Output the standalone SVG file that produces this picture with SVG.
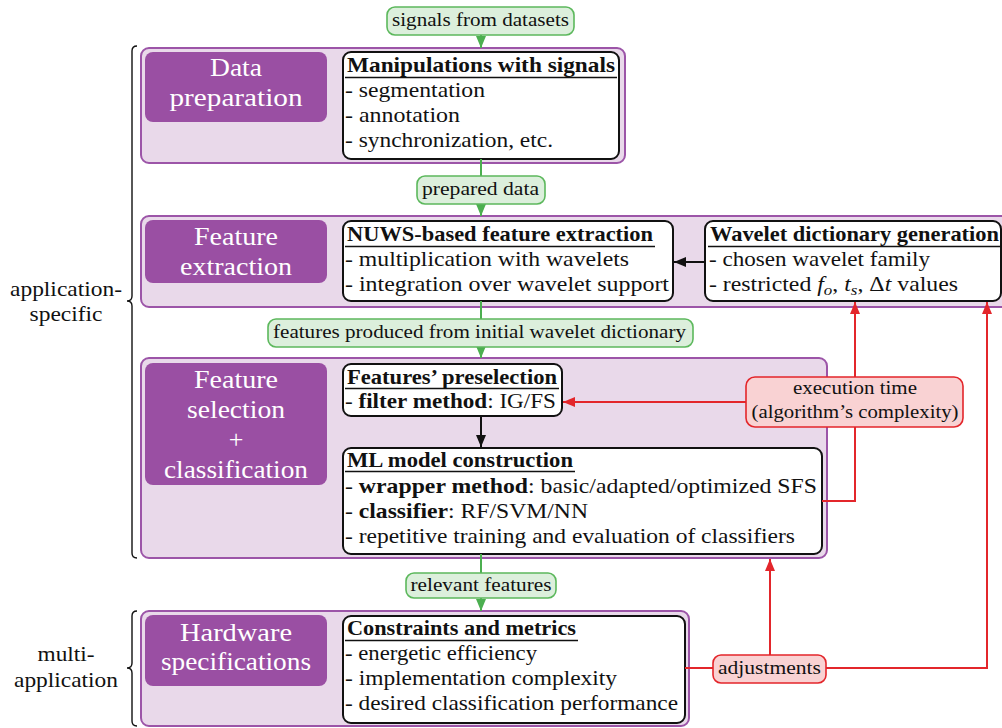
<svg xmlns="http://www.w3.org/2000/svg" width="1002" height="728" viewBox="0 0 1002 728">
  <style>
    text { font-family: "Liberation Serif", "Times New Roman", serif; font-size: 21px; fill: #111; }
    .b { font-weight: bold; }
    .it { font-style: italic; }
    .dk { fill: #ffffff; font-size: 26px; text-anchor: middle; }
    .lb { font-size: 19px; text-anchor: middle; }
    .mid { text-anchor: middle; }
    .frame { fill: #e9d9ea; stroke: #9c55a8; stroke-width: 2; }
    .stage { fill: #9a4fa3; }
    .card { fill: #ffffff; stroke: #111; stroke-width: 2; }
    .ul { stroke: #111; stroke-width: 1.5; }
    .gl { fill: #dcefdc; stroke: #5cb85c; stroke-width: 1.6; }
    .rl { fill: #f9d2d3; stroke: #e3262b; stroke-width: 1.6; }
    .cg { fill: none; stroke: #4caf50; stroke-width: 2; }
    .cr { fill: none; stroke: #e3262b; stroke-width: 2; }
    .ck { fill: none; stroke: #111; stroke-width: 2; }
    .brace { fill: none; stroke: #111; stroke-width: 1.4; }
  </style>
  <defs>
    <marker id="ahG" viewBox="0 0 12 10" refX="12" refY="5" markerWidth="12" markerHeight="10" orient="auto" markerUnits="userSpaceOnUse">
      <path d="M0,0 L12,5 L0,10 z" fill="#4caf50"/>
    </marker>
    <marker id="ahR" viewBox="0 0 12 10" refX="12" refY="5" markerWidth="12" markerHeight="10" orient="auto" markerUnits="userSpaceOnUse">
      <path d="M0,0 L12,5 L0,10 z" fill="#e3262b"/>
    </marker>
    <marker id="ahK" viewBox="0 0 12 10" refX="12" refY="5" markerWidth="12" markerHeight="10" orient="auto" markerUnits="userSpaceOnUse">
      <path d="M0,0 L12,5 L0,10 z" fill="#111"/>
    </marker>
  </defs>

  <rect width="1002" height="728" fill="#ffffff"/>

  <!-- scope braces -->
  <g id="scope-app">
    <path class="brace" d="M137,46 Q132,46 132,51 L132,296 Q132,301 127,301 Q132,301 132,306 L132,553 Q132,558 137,558"/>
    <text class="mid" x="66" y="296" textLength="112" lengthAdjust="spacingAndGlyphs">application-</text>
    <text class="mid" x="66" y="321" textLength="73" lengthAdjust="spacingAndGlyphs">specific</text>
  </g>
  <g id="scope-multi">
    <path class="brace" d="M137,611 Q132,611 132,616 L132,663 Q132,668 127,668 Q132,668 132,673 L132,721 Q132,726 137,726"/>
    <text class="mid" x="66" y="661" textLength="57" lengthAdjust="spacingAndGlyphs">multi-</text>
    <text class="mid" x="66" y="687" textLength="104" lengthAdjust="spacingAndGlyphs">application</text>
  </g>

  <!-- stage 1 -->
  <g id="data-preparation">
    <rect class="frame" x="141" y="48" width="484" height="115" rx="8"/>
    <rect class="stage" x="145" y="52" width="182" height="70" rx="8"/>
    <text class="dk" x="236" y="76" textLength="52" lengthAdjust="spacingAndGlyphs">Data</text>
    <text class="dk" x="236" y="106" textLength="133" lengthAdjust="spacingAndGlyphs">preparation</text>
  </g>
  <g id="manipulations">
    <rect class="card" x="343" y="52" width="276" height="107" rx="8"/>
    <text class="b" x="347" y="72" textLength="268" lengthAdjust="spacingAndGlyphs">Manipulations with signals</text>
    <line class="ul" x1="345" y1="77.5" x2="617" y2="77.5"/>
    <text x="345" y="97" textLength="140" lengthAdjust="spacingAndGlyphs">- segmentation</text>
    <text x="345" y="122" textLength="115" lengthAdjust="spacingAndGlyphs">- annotation</text>
    <text x="345" y="147" textLength="208" lengthAdjust="spacingAndGlyphs">- synchronization, etc.</text>
  </g>

  <!-- stage 2 -->
  <g id="feature-extraction">
    <rect class="frame" x="141" y="216" width="875" height="91" rx="8"/>
    <rect class="stage" x="145" y="220" width="182" height="63" rx="8"/>
    <text class="dk" x="236" y="245" textLength="84" lengthAdjust="spacingAndGlyphs">Feature</text>
    <text class="dk" x="236" y="275" textLength="112" lengthAdjust="spacingAndGlyphs">extraction</text>
  </g>
  <g id="nuws">
    <rect class="card" x="343" y="221" width="330" height="80" rx="8"/>
    <text class="b" x="347" y="241" textLength="306" lengthAdjust="spacingAndGlyphs">NUWS-based feature extraction</text>
    <line class="ul" x1="345" y1="246.5" x2="655" y2="246.5"/>
    <text x="345" y="266" textLength="284" lengthAdjust="spacingAndGlyphs">- multiplication with wavelets</text>
    <text x="345" y="291" textLength="324" lengthAdjust="spacingAndGlyphs">- integration over wavelet support</text>
  </g>
  <g id="wavelet-dictionary">
    <rect class="card" x="705" y="221" width="296" height="80" rx="8"/>
    <text class="b" x="710" y="241" textLength="289" lengthAdjust="spacingAndGlyphs">Wavelet dictionary generation</text>
    <line class="ul" x1="708" y1="246.5" x2="1000" y2="246.5"/>
    <text x="709" y="266" textLength="221" lengthAdjust="spacingAndGlyphs">- chosen wavelet family</text>
    <text x="709" y="291" textLength="249" lengthAdjust="spacingAndGlyphs">- restricted <tspan class="it">f</tspan><tspan class="it" font-size="15" dy="4">o</tspan><tspan dy="-4">, </tspan><tspan class="it">t</tspan><tspan class="it" font-size="15" dy="4">s</tspan><tspan dy="-4">, Δ</tspan><tspan class="it">t</tspan> values</text>
  </g>

  <!-- stage 3 -->
  <g id="feature-selection">
    <rect class="frame" x="141" y="358" width="686" height="200" rx="8"/>
    <rect class="stage" x="145" y="363" width="182" height="122" rx="8"/>
    <text class="dk" x="236" y="388" textLength="84" lengthAdjust="spacingAndGlyphs">Feature</text>
    <text class="dk" x="236" y="418" textLength="98" lengthAdjust="spacingAndGlyphs">selection</text>
    <text class="dk" x="236" y="448">+</text>
    <text class="dk" x="236" y="478" textLength="144" lengthAdjust="spacingAndGlyphs">classification</text>
  </g>
  <g id="preselection">
    <rect class="card" x="343" y="364" width="219" height="52" rx="8"/>
    <text class="b" x="347" y="384" textLength="210" lengthAdjust="spacingAndGlyphs">Features’ preselection</text>
    <line class="ul" x1="345" y1="388.5" x2="559" y2="388.5"/>
    <text x="345" y="408" textLength="211" lengthAdjust="spacingAndGlyphs">- <tspan class="b">filter method</tspan>: IG/FS</text>
  </g>
  <g id="ml-model">
    <rect class="card" x="343" y="448" width="479" height="106" rx="8"/>
    <text class="b" x="347" y="467" textLength="226" lengthAdjust="spacingAndGlyphs">ML model construction</text>
    <line class="ul" x1="345" y1="471.5" x2="575" y2="471.5"/>
    <text x="345" y="493" textLength="472" lengthAdjust="spacingAndGlyphs">- <tspan class="b">wrapper method</tspan>: basic/adapted/optimized SFS</text>
    <text x="345" y="518" textLength="243" lengthAdjust="spacingAndGlyphs">- <tspan class="b">classifier</tspan>: RF/SVM/NN</text>
    <text x="345" y="543" textLength="450" lengthAdjust="spacingAndGlyphs">- repetitive training and evaluation of classifiers</text>
  </g>

  <!-- stage 4 -->
  <g id="hardware">
    <rect class="frame" x="141" y="611" width="548" height="115" rx="8"/>
    <rect class="stage" x="145" y="615" width="182" height="71" rx="8"/>
    <text class="dk" x="236" y="641" textLength="112" lengthAdjust="spacingAndGlyphs">Hardware</text>
    <text class="dk" x="236" y="670" textLength="150" lengthAdjust="spacingAndGlyphs">specifications</text>
  </g>
  <g id="constraints">
    <rect class="card" x="343" y="616" width="342" height="107" rx="8"/>
    <text class="b" x="347" y="635" textLength="229" lengthAdjust="spacingAndGlyphs">Constraints and metrics</text>
    <line class="ul" x1="345" y1="640.5" x2="578" y2="640.5"/>
    <text x="345" y="660" textLength="192" lengthAdjust="spacingAndGlyphs">- energetic efficiency</text>
    <text x="345" y="685" textLength="272" lengthAdjust="spacingAndGlyphs">- implementation complexity</text>
    <text x="345" y="710" textLength="333" lengthAdjust="spacingAndGlyphs">- desired classification performance</text>
  </g>

  <!-- connectors -->
  <g id="connectors">
    <line class="cg" x1="481" y1="35" x2="481" y2="48" marker-end="url(#ahG)"/>
    <line class="cg" x1="481" y1="159" x2="481" y2="176"/>
    <line class="cg" x1="481" y1="204" x2="481" y2="216" marker-end="url(#ahG)"/>
    <line class="cg" x1="481" y1="301" x2="481" y2="319"/>
    <line class="cg" x1="481" y1="347" x2="481" y2="358" marker-end="url(#ahG)"/>
    <line class="cg" x1="481" y1="554" x2="481" y2="573"/>
    <line class="cg" x1="481" y1="598" x2="481" y2="611" marker-end="url(#ahG)"/>
    <line class="ck" x1="705" y1="262" x2="674" y2="262" marker-end="url(#ahK)"/>
    <line class="ck" x1="481" y1="416" x2="481" y2="447" marker-end="url(#ahK)"/>
    <line class="cr" x1="746" y1="402" x2="563" y2="402" marker-end="url(#ahR)"/>
    <path class="cr" d="M822,501 H855 V302" marker-end="url(#ahR)"/>
    <line class="cr" x1="685" y1="668" x2="713" y2="668"/>
    <line class="cr" x1="770" y1="655" x2="770" y2="559" marker-end="url(#ahR)"/>
    <path class="cr" d="M826,668 H987 V302" marker-end="url(#ahR)"/>
  </g>

  <!-- flow labels -->
  <g id="lbl-signals">
    <rect class="gl" x="387" y="7" width="187" height="28" rx="8"/>
    <text class="lb" x="480.5" y="26" textLength="177" lengthAdjust="spacingAndGlyphs">signals from datasets</text>
  </g>
  <g id="lbl-prepared">
    <rect class="gl" x="417" y="176" width="128" height="28" rx="8"/>
    <text class="lb" x="480.5" y="195" textLength="117" lengthAdjust="spacingAndGlyphs">prepared data</text>
  </g>
  <g id="lbl-features">
    <rect class="gl" x="268" y="319" width="425" height="28" rx="8"/>
    <text class="lb" x="479.5" y="338" textLength="413" lengthAdjust="spacingAndGlyphs">features produced from initial wavelet dictionary</text>
  </g>
  <g id="lbl-relevant">
    <rect class="gl" x="406" y="573" width="150" height="25" rx="8"/>
    <text class="lb" x="481" y="591" textLength="141" lengthAdjust="spacingAndGlyphs">relevant features</text>
  </g>
  <g id="lbl-execution">
    <rect class="rl" x="746" y="377" width="217" height="50" rx="9"/>
    <text class="lb" x="855" y="394" textLength="124" lengthAdjust="spacingAndGlyphs">execution time</text>
    <text class="lb" x="855" y="418" textLength="207" lengthAdjust="spacingAndGlyphs">(algorithm’s complexity)</text>
  </g>
  <g id="lbl-adjustments">
    <rect class="rl" x="713" y="655" width="113" height="28" rx="8"/>
    <text class="lb" x="769.5" y="674" textLength="103" lengthAdjust="spacingAndGlyphs">adjustments</text>
  </g>
</svg>
